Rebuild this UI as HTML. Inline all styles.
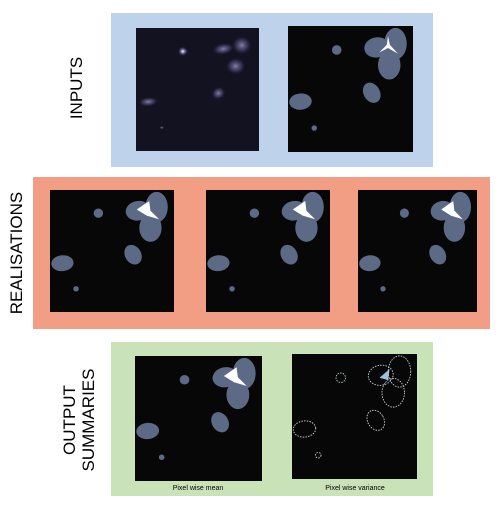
<!DOCTYPE html>
<html><head><meta charset="utf-8"><style>
body{margin:0;background:#fff;width:500px;height:507px;overflow:hidden;font-family:"Liberation Sans",sans-serif}
</style></head><body>
<svg id="fig" width="500" height="507" xmlns="http://www.w3.org/2000/svg">
<defs>
<radialGradient id="glow"><stop offset="0" stop-color="#ffffff"/><stop offset="0.35" stop-color="#8a82b0" stop-opacity="0.9"/><stop offset="1" stop-color="#221c38" stop-opacity="0"/></radialGradient>
<radialGradient id="glowFaint"><stop offset="0" stop-color="#8a86b0" stop-opacity="0.95"/><stop offset="0.6" stop-color="#4a4670" stop-opacity="0.6"/><stop offset="1" stop-color="#221c38" stop-opacity="0"/></radialGradient>
</defs>
<rect x="111" y="13" width="322" height="154" fill="#bfd2ec"/>
<rect x="33" y="177" width="457" height="152" fill="#f19e84"/>
<rect x="111" y="342" width="322" height="154" fill="#c9e2b8"/>
<text x="0" y="0" transform="translate(82,88) rotate(-90)" text-anchor="middle" font-size="17" fill="#000">INPUTS</text>
<text x="0" y="0" transform="translate(22,253) rotate(-90)" text-anchor="middle" font-size="17" fill="#000">REALISATIONS</text>
<text x="0" y="0" transform="translate(84,420) rotate(-90)" text-anchor="middle" font-size="17" fill="#000"><tspan x="0" dy="-9">OUTPUT</tspan><tspan x="0" dy="19">SUMMARIES</tspan></text>
<text x="198" y="490" text-anchor="middle" font-size="7" fill="#000">Pixel wise mean</text>
<text x="355" y="490" text-anchor="middle" font-size="7" fill="#000">Pixel wise variance</text>
</svg>
<script>
// blobs: [cx, cy, rx, ry, rotation] in unit panel coordinates
const blobCx = [0.39, 0.71, 0.86, 0.81, 0.67, 0.10, 0.21];
const blobCy = [0.19, 0.17, 0.14, 0.31, 0.53, 0.60, 0.81];
const blobRx = [0.038, 0.10, 0.09, 0.09, 0.065, 0.09, 0.022];
const blobRy = [0.038, 0.08, 0.125, 0.115, 0.085, 0.065, 0.022];
const blobRot = [0, -10, 0, 0, -30, -5, 0];
const svg = document.getElementById('fig');
const NS = 'http://www.w3.org/2000/svg';
function mk(tag, attrs, parent){const e=document.createElementNS(NS,tag);for(const k in attrs)e.setAttribute(k,attrs[k]);parent.appendChild(e);return e;}
function panel(x,y,w,h,kind,name){
  const g=mk('g',{transform:`translate(${x},${y})`},svg);
  
  
  mk('rect',{x:0,y:0,width:w,height:h,fill:kind==='input'?'#131220':'#070707'},g);
  for(let i=0;i<blobCx.length;i++){
    const cx=blobCx[i]*w, cy=blobCy[i]*h;
    let e;
    if(kind==='input'){
      e=mk('ellipse',{cx,cy,rx:blobRx[i]*w*0.9,ry:blobRy[i]*h*0.6,fill:'url(#glowFaint)',transform:`rotate(${blobRot[i]} ${cx} ${cy})`},g);
    } else if(kind==='var'){
      e=mk('ellipse',{cx,cy,rx:blobRx[i]*w,ry:blobRy[i]*h,fill:'none',stroke:'#c8d2da','stroke-width':0.9,'stroke-dasharray':'1.5 1.2',transform:`rotate(${blobRot[i]} ${cx} ${cy})`},g);
    } else {
      e=mk('ellipse',{cx,cy,rx:blobRx[i]*w,ry:blobRy[i]*h,fill:'#5d6a86',transform:`rotate(${blobRot[i]} ${cx} ${cy})`},g);
    }
    
    
  }
  if(kind==='input'){
    const s=mk('circle',{cx:0.38*w,cy:0.19*h,r:5,fill:'url(#glow)'},g);
    
    
  } else if(kind==='mask'){
    const p=mk('path',{d:`M${0.79*w} ${0.15*h} L${0.80*w} ${0.08*h} L${0.815*w} ${0.15*h} L${0.88*w} ${0.22*h} L${0.80*w} ${0.175*h} L${0.73*w} ${0.21*h} Z`,fill:'#fff'},g);
    
    
  } else if(kind==='real'||kind==='mean'){
    const p=mk('path',{d:`M${0.70*w} ${0.16*h} L${0.80*w} ${0.09*h} L${0.81*w} ${0.17*h} L${0.88*w} ${0.24*h} L${0.78*w} ${0.21*h} Z`,fill:'#fff'},g);
    
    
  } else if(kind==='var'){
    const p=mk('path',{d:`M${0.70*w} ${0.19*h} L${0.78*w} ${0.12*h} L${0.77*w} ${0.21*h} Z`,fill:'#9fc0d8'},g);
    
    
  }
}
panel(136,28,123,123,'input','input-image');
panel(288,26,125,126,'mask','input-mask');
panel(50,190,124,122,'real','realisation-1');
panel(206,190,124,122,'real','realisation-2');
panel(358,190,119,122,'real','realisation-3');
panel(135,356,127,125,'mean','mean-image');
panel(292,354,125,125,'var','variance-image');
</script>
</body></html>
